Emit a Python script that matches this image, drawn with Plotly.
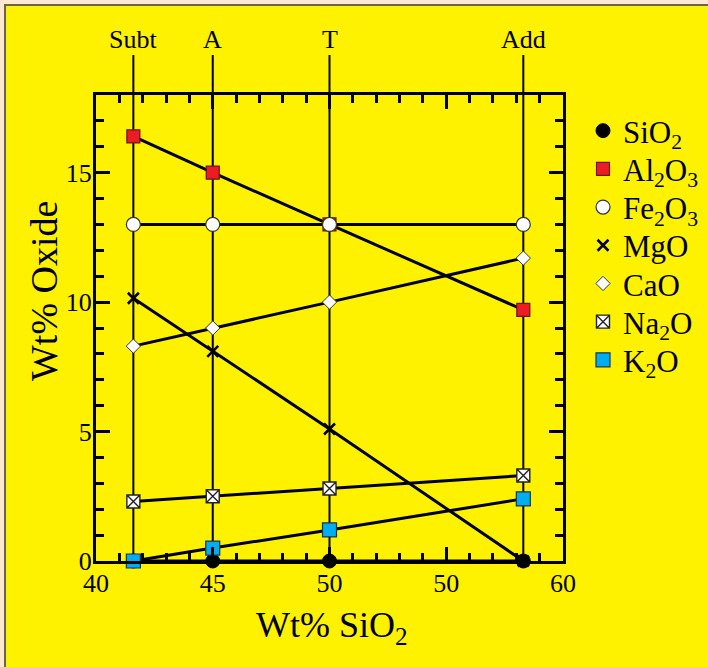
import plotly.graph_objects as go

# ---- data ----
sample_names = ["Subt", "A", "T", "Add"]
sample_sio2 = [41.6, 45.0, 50.0, 58.3]

oxide_names = ["SiO<sub>2</sub>", "Al<sub>2</sub>O<sub>3</sub>", "Fe<sub>2</sub>O<sub>3</sub>",
               "MgO", "CaO", "Na<sub>2</sub>O", "K<sub>2</sub>O"]
sio2_wt = [0.0, 0.0, 0.0, 0.0]
al2o3_wt = [16.4, 15.0, 13.0, 9.7]
fe2o3_wt = [13.0, 13.0, 13.0, 13.0]
mgo_wt = [10.15, 8.1, 5.1, 0.0]
cao_wt = [8.3, 9.0, 10.0, 11.7]
na2o_wt = [2.3, 2.5, 2.8, 3.3]
k2o_wt = [0.0, 0.5, 1.2, 2.4]

x_tickvals = [40, 45, 50, 55, 60]
x_ticktext = ["40", "45", "50", "50", "60"]
y_tickvals = [0, 5, 10, 15]
y_ticktext = ["0", "5", "10", "15"]

series = [sio2_wt, al2o3_wt, fe2o3_wt, mgo_wt, cao_wt, na2o_wt, k2o_wt]

# ---- styles ----
FONT = "Liberation Serif"
YELLOW = "#FFF200"
styles = [
    dict(symbol="circle", size=14, color="black", line=dict(color="black", width=1)),
    dict(symbol="square", size=13, color="#ED1C24", line=dict(color="#6a1510", width=1.2)),
    dict(symbol="circle", size=14, color="white", line=dict(color="#333333", width=1.2)),
    dict(symbol="x-thin", size=11, color="black", line=dict(color="black", width=2.6)),
    dict(symbol="diamond", size=11, color="white", line=dict(color="#333333", width=1)),
    dict(symbol="square-x", size=13, color="white", line=dict(color="#222222", width=1.4)),
    dict(symbol="square", size=14, color="#00AEEF", line=dict(color="#1b3550", width=1.2)),
]
# drawing order of the marker layers (SiO2 above MgO, K2O on top)
draw_order = [1, 2, 3, 4, 5, 0, 6]

L, R, T, B = 96, 145, 95, 106
W, H = 708, 667
pw, ph = W - L - R, H - T - B


def px_x(p):
    return (p - L) / pw


def px_y(p):
    return 1 - (p - T) / ph


fig = go.Figure()

# connecting lines
for vals in series:
    fig.add_trace(go.Scatter(x=sample_sio2, y=vals, mode="lines",
                             line=dict(color="black", width=3),
                             showlegend=False, hoverinfo="skip"))
# markers, each with its own legend box
legend_layouts = {}
for i in draw_order:
    lname = "legend" if i == 0 else f"legend{i + 1}"
    fig.add_trace(go.Scatter(x=sample_sio2, y=series[i], mode="markers", name=oxide_names[i],
                             marker=styles[i], cliponaxis=False, legend=lname))
    legend_layouts[lname] = dict(
        x=px_x(583), y=px_y(131 + 38.2 * i), xanchor="left", yanchor="middle",
        bgcolor="rgba(0,0,0,0)", font=dict(family=FONT, size=31, color="black"))

shapes = [
    dict(type="rect", xref="paper", yref="paper",
         x0=px_x(5), x1=px_x(730), y0=px_y(690), y1=px_y(5),
         fillcolor=YELLOW, line=dict(color="#6b6547", width=2), layer="below"),
]
for xv in sample_sio2:
    shapes.append(dict(type="line", xref="x", yref="paper", x0=xv, x1=xv,
                       y0=0, y1=px_y(55), line=dict(color="black", width=2),
                       layer="below"))

annotations = []
for name, xv in zip(sample_names, sample_sio2):
    annotations.append(dict(x=xv, xref="x", y=px_y(40), yref="paper", text=name,
                            showarrow=False, yanchor="middle",
                            font=dict(family=FONT, size=26, color="black")))
annotations.append(dict(x=px_x(44), xref="paper", y=px_y(291), yref="paper",
                        text="Wt% Oxide", textangle=-90, showarrow=False,
                        xanchor="center", yanchor="middle",
                        font=dict(family=FONT, size=38, color="black")))
annotations.append(dict(x=px_x(332), xref="paper", y=px_y(627), yref="paper",
                        text="Wt% SiO<sub>2</sub>", showarrow=False,
                        xanchor="center", yanchor="middle",
                        font=dict(family=FONT, size=36, color="black")))

axis_common = dict(
    showline=True, linewidth=3, linecolor="black", mirror="allticks",
    ticks="inside", ticklen=14, tickwidth=3, tickcolor="black",
    showgrid=False, zeroline=False,
    tickfont=dict(family=FONT, size=26, color="black"),
)

fig.update_layout(
    width=W, height=H,
    margin=dict(l=L, r=R, t=T, b=B, autoexpand=False),
    paper_bgcolor="#FDE9D2",
    plot_bgcolor=YELLOW,
    shapes=shapes,
    annotations=annotations,
    xaxis=dict(range=[40, 60], tickmode="array", tickvals=x_tickvals, ticktext=x_ticktext,
               ticklabelstandoff=-3,
               minor=dict(tickmode="linear", tick0=40, dtick=1, ticks="inside",
                          ticklen=8, tickwidth=3, tickcolor="black", showgrid=False),
               **axis_common),
    yaxis=dict(range=[0, 18], tickmode="array", tickvals=y_tickvals, ticktext=y_ticktext,
               ticklabelstandoff=-4,
               minor=dict(tickmode="linear", tick0=0, dtick=1, ticks="inside",
                          ticklen=8, tickwidth=3, tickcolor="black", showgrid=False),
               **axis_common),
    showlegend=True,
    **legend_layouts,
)

fig.write_html("out.html", config={"displayModeBar": False},
               post_script="document.body.style.margin='0';")
